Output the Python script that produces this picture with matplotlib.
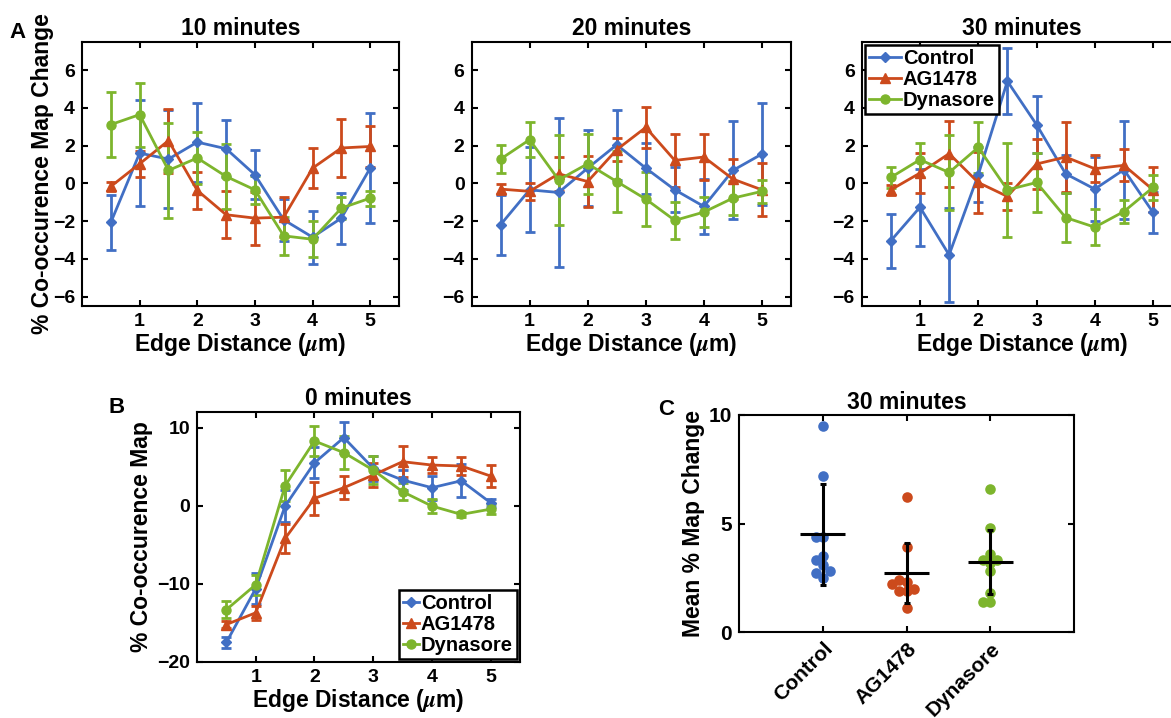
import matplotlib
matplotlib.use("Agg")
import matplotlib.pyplot as plt
import numpy as np

plt.rcParams["font.family"] = ["Liberation Sans", "DejaVu Sans"]
plt.rcParams["font.weight"] = "bold"
plt.rcParams["axes.labelweight"] = "bold"
plt.rcParams["axes.titleweight"] = "bold"
plt.rcParams["mathtext.fontset"] = "stix"
plt.rcParams["axes.linewidth"] = 1.5

# ---- data ----
edge = [0.5, 1.0, 1.5, 2.0, 2.5, 3.0, 3.5, 4.0, 4.5, 5.0]
groups = ["Control", "AG1478", "Dynasore"]

# 10 minutes
ctrl_10 = [-2.07, 1.61, 1.29, 2.19, 1.84, 0.46, -1.93, -2.85, -1.84, 0.81]
ctrl_10_err = [1.45, 2.8, 2.6, 2.1, 1.5, 1.3, 1.1, 1.4, 1.35, 2.9]
ag_10 = [-0.16, 1.04, 2.27, -0.37, -1.66, -1.84, -1.79, 0.81, 1.88, 1.96]
ag_10_err = [0.25, 0.7, 1.7, 1.0, 1.25, 1.4, 1.05, 1.05, 1.55, 1.1]
dyn_10 = [3.12, 3.65, 0.69, 1.35, 0.37, -0.34, -2.78, -2.96, -1.31, -0.78]
dyn_10_err = [1.72, 1.7, 2.5, 1.4, 1.7, 0.75, 1.0, 0.95, 0.6, 0.4]

# 20 minutes
ctrl_20 = [-2.19, -0.34, -0.48, 0.81, 2.05, 0.81, -0.34, -1.22, 0.69, 1.56]
ctrl_20_err = [1.6, 2.25, 3.95, 2.0, 1.85, 1.35, 1.2, 1.45, 2.6, 2.7]
ag_20 = [-0.30, -0.42, 0.51, 0.10, 1.79, 2.97, 1.22, 1.40, 0.23, -0.34]
ag_20_err = [0.25, 0.45, 0.9, 1.35, 0.6, 1.1, 1.4, 1.2, 1.05, 1.4]
dyn_20 = [1.29, 2.32, 0.19, 1.04, 0.10, -0.83, -1.96, -1.52, -0.78, -0.42]
dyn_20_err = [0.73, 0.93, 2.4, 1.6, 1.6, 1.45, 1.0, 0.78, 0.9, 0.6]

# 30 minutes
ctrl_30 = [-3.04, -1.26, -3.79, 0.46, 5.42, 3.12, 0.51, -0.30, 0.73, -1.54]
ctrl_30_err = [1.42, 2.05, 2.5, 1.45, 1.75, 1.5, 1.0, 1.7, 2.6, 1.08]
ag_30 = [-0.34, 0.55, 1.58, 0.05, -0.69, 1.03, 1.40, 0.78, 0.96, -0.34]
ag_30_err = [0.25, 1.05, 1.75, 1.6, 0.73, 1.3, 1.85, 0.72, 0.85, 1.2]
dyn_30 = [0.32, 1.26, 0.58, 1.91, -0.34, 0.05, -1.81, -2.32, -1.49, -0.21]
dyn_30_err = [0.55, 0.9, 2.0, 1.35, 2.5, 1.55, 1.3, 0.95, 0.6, 0.65]

# 0 minutes
ctrl_0 = [-17.5, -10.6, -0.04, 5.5, 8.72, 4.8, 3.29, 2.31, 3.2, 0.38]
ctrl_0_err = [0.75, 2.0, 2.0, 2.0, 2.0, 1.6, 1.3, 1.55, 2.1, 0.5]
ag_0 = [-15.2, -13.7, -4.19, 0.94, 2.31, 3.93, 5.64, 5.21, 5.09, 3.8]
ag_0_err = [0.5, 0.9, 1.9, 2.15, 1.5, 1.5, 2.0, 1.0, 1.2, 1.4]
dyn_0 = [-13.3, -10.1, 2.56, 8.29, 6.8, 4.57, 1.8, -0.04, -1.11, -0.43]
dyn_0_err = [1.05, 1.3, 2.0, 1.9, 2.1, 1.8, 1.1, 0.9, 0.3, 0.6]

# panel C: per-cell mean % map change at 30 minutes
c_ctrl = [9.5, 7.2, 4.4, 4.4, 3.5, 3.3, 3.1, 2.8, 2.7, 2.5]
c_ag = [6.2, 3.9, 2.4, 2.3, 2.2, 2.0, 1.9, 1.9, 1.1]
c_dyn = [6.6, 4.8, 3.6, 3.3, 3.3, 3.2, 2.8, 1.8, 1.4, 1.4]
c_mean = [4.5, 2.72, 3.21]
c_sd = [2.33, 1.4, 1.48]

colors = ["#416FC4", "#CC4A1C", "#7DB52D"]
markers = ["D", "^", "o"]
msizes = [5.5, 6.5, 6.5]

fig = plt.figure(figsize=(11.71, 7.18), dpi=100)


def style_axes(ax, size=14):
    ax.tick_params(direction="in", length=4, width=1.5, labelsize=size,
                   top=True, right=True, pad=5)
    for lab in ax.get_xticklabels() + ax.get_yticklabels():
        lab.set_fontweight("bold")


def line_panel(rect, series, errs, title, ylim, yticks, ylabel=None,
               legend_loc=None, handlelen=1.5, ylabelpad=3):
    ax = fig.add_axes(rect)
    lines = []
    for vals, err, c, m, ms, name in zip(series, errs, colors, markers, msizes, groups):
        cont = ax.errorbar(edge, vals, yerr=err, color=c, marker=m, ms=ms, lw=2.0,
                           elinewidth=2.0, capsize=3.5, capthick=2.0, label=name)
        lines.append(cont[0])
    ax.set_xlim(0, 5.5)
    ax.set_ylim(*ylim)
    ax.set_xticks([1, 2, 3, 4, 5])
    ax.set_yticks(yticks)
    ax.set_title(title, fontsize=16.5, pad=5)
    ax.set_xlabel(r"Edge Distance ($\mu$m)", fontsize=16.5, labelpad=1)
    if ylabel:
        ax.set_ylabel(ylabel, fontsize=16.5, labelpad=ylabelpad)
    style_axes(ax)
    if legend_loc:
        leg = ax.legend(lines, groups, loc=legend_loc,
                        prop={"weight": "bold", "size": 14.5},
                        frameon=True, fancybox=False, edgecolor="black",
                        handlelength=handlelen, handletextpad=0.1,
                        borderpad=0.2, labelspacing=0.1, borderaxespad=0.15)
        leg.get_frame().set_linewidth(1.8)
        leg.get_frame().set_alpha(1)
    return ax


top_b = 1 - 306 / 718
top_h = 264 / 718
line_panel([82 / 1171, top_b, 317 / 1171, top_h],
           [ctrl_10, ag_10, dyn_10], [ctrl_10_err, ag_10_err, dyn_10_err],
           "10 minutes", (-6.5, 7.5), [-6, -4, -2, 0, 2, 4, 6],
           ylabel="% Co-occurence Map Change", ylabelpad=-1)
line_panel([471.5 / 1171, top_b, 319.5 / 1171, top_h],
           [ctrl_20, ag_20, dyn_20], [ctrl_20_err, ag_20_err, dyn_20_err],
           "20 minutes", (-6.5, 7.5), [-6, -4, -2, 0, 2, 4, 6])
line_panel([861.7 / 1171, top_b, 320.5 / 1171, top_h],
           [ctrl_30, ag_30, dyn_30], [ctrl_30_err, ag_30_err, dyn_30_err],
           "30 minutes", (-6.5, 7.5), [-6, -4, -2, 0, 2, 4, 6],
           legend_loc="upper left", handlelen=1.6)

line_panel([197 / 1171, 1 - 662 / 718, 323 / 1171, 250 / 718],
           [ctrl_0, ag_0, dyn_0], [ctrl_0_err, ag_0_err, dyn_0_err],
           "0 minutes", (-20, 12), [-20, -10, 0, 10],
           ylabel="% Co-occurence Map", legend_loc="lower right", handlelen=0.8)


def swarm(vals, d=0.32, w=0.085):
    vals = np.asarray(vals, dtype=float)
    offs = np.zeros(len(vals))
    placed = []
    for i in np.argsort(vals):
        used = [o for v, o in placed if abs(v - vals[i]) < d]
        for k in [0, -1, 1, -2, 2, -3, 3]:
            if all(abs(k * w - u) > 1e-9 for u in used):
                offs[i] = k * w
                break
        placed.append((vals[i], offs[i]))
    return offs


axc = fig.add_axes([739 / 1171, 1 - 632 / 718, 335 / 1171, 217 / 718])
for i, (vals, c) in enumerate(zip([c_ctrl, c_ag, c_dyn], colors)):
    xs = i + 1 + swarm(vals)
    axc.scatter(xs, vals, s=58, color=c, zorder=2, linewidths=0)
    axc.errorbar(i + 1, c_mean[i], yerr=c_sd[i], color="black", lw=0,
                 elinewidth=2.2, capsize=2.5, capthick=2.2, zorder=3)
    axc.hlines(c_mean[i], i + 1 - 0.27, i + 1 + 0.27, color="black", lw=2.2, zorder=3)
axc.set_xlim(0, 4)
axc.set_ylim(0, 10)
axc.set_xticks([1, 2, 3])
axc.set_xticklabels(groups, rotation=45, ha="right", rotation_mode="anchor")
axc.set_yticks([0, 5, 10])
axc.set_title("30 minutes", fontsize=16.5, pad=4)
axc.set_ylabel("Mean % Map Change", fontsize=16.5, labelpad=3)
style_axes(axc, size=15)
for lab in axc.get_xticklabels():
    lab.set_fontsize(15)
    lab.set_fontweight("bold")

fig.text(9 / 1171, 1 - 38 / 718, "A", fontsize=16, fontweight="bold", va="baseline")
fig.text(108 / 1171, 1 - 413 / 718, "B", fontsize=16, fontweight="bold", va="baseline")
fig.text(658 / 1171, 1 - 415 / 718, "C", fontsize=16, fontweight="bold", va="baseline")

fig.savefig("out.png", dpi=100)
